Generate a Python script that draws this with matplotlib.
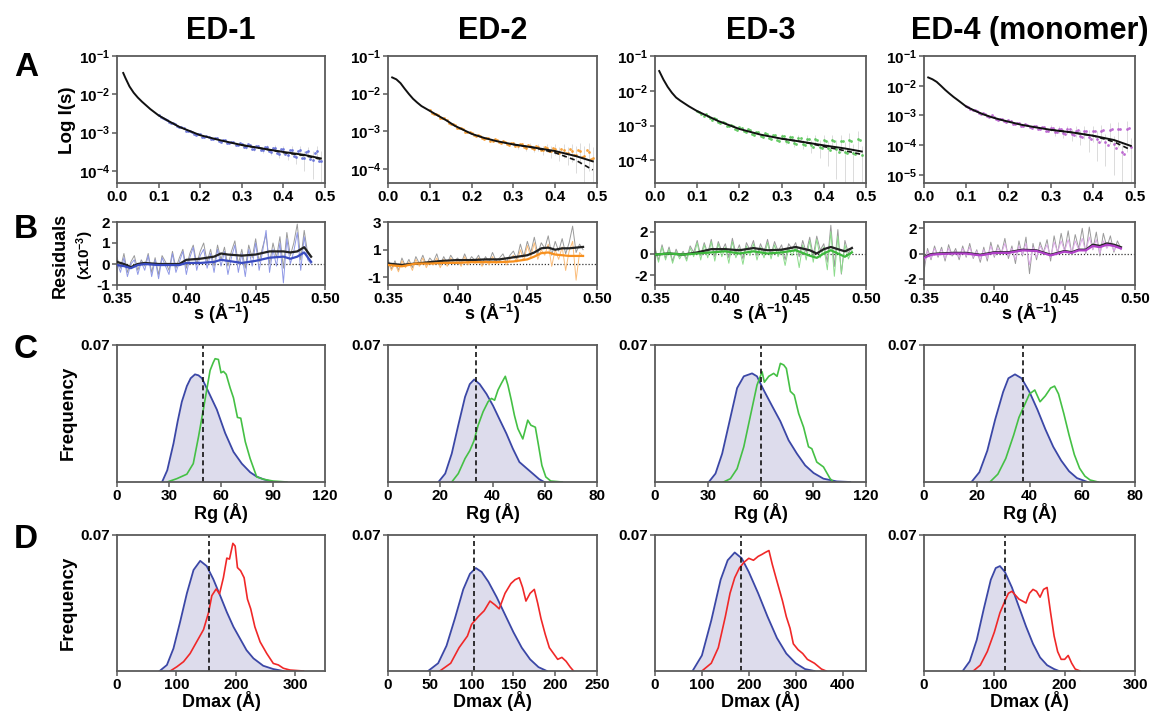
import numpy as np
import matplotlib
matplotlib.use("Agg")
import matplotlib.pyplot as plt
from matplotlib.ticker import NullLocator, FormatStrFormatter

plt.rcParams['font.family'] = ['Liberation Sans', 'DejaVu Sans']
plt.rcParams['font.weight'] = 'bold'
plt.rcParams['mathtext.fontset'] = 'custom'
plt.rcParams['mathtext.rm'] = 'Liberation Sans'
plt.rcParams['mathtext.bf'] = 'Liberation Sans:bold'
plt.rcParams['mathtext.default'] = 'bf'
plt.rcParams['axes.unicode_minus'] = False

W, H = 1151, 711

titles = ["ED-1", "ED-2", "ED-3", "ED-4 (monomer)"]

# ---- row A: scattering curves (I in absolute units) ----
fit_s = [
    [0.015, 0.02, 0.03, 0.04, 0.05, 0.06, 0.08, 0.10, 0.12, 0.15, 0.20, 0.25, 0.30, 0.35, 0.40, 0.45, 0.49],
    [0.01, 0.02, 0.03, 0.04, 0.05, 0.06, 0.07, 0.08, 0.10, 0.12, 0.14, 0.16, 0.18, 0.20, 0.23, 0.26, 0.30, 0.35, 0.40, 0.45, 0.49],
    [0.01, 0.02, 0.03, 0.04, 0.05, 0.06, 0.08, 0.10, 0.12, 0.15, 0.20, 0.25, 0.30, 0.35, 0.40, 0.45, 0.49],
    [0.01, 0.02, 0.03, 0.04, 0.05, 0.06, 0.07, 0.08, 0.10, 0.12, 0.14, 0.16, 0.18, 0.20, 0.23, 0.26, 0.30, 0.35, 0.40, 0.45, 0.49],
]
fit_I = [
    [0.036, 0.027, 0.016, 0.011, 0.0082, 0.0064, 0.0041, 0.0028, 0.0021, 0.0014, 0.00085, 0.00062, 0.00047, 0.00038, 0.00031, 0.00026, 0.00021],
    [0.027, 0.024, 0.019, 0.0135, 0.0098, 0.0073, 0.0058, 0.0047, 0.0035, 0.0026, 0.00195, 0.0014, 0.0011, 0.00086, 0.00067, 0.00055, 0.00045, 0.00037, 0.00030, 0.00022, 0.00016],
    [0.037, 0.021, 0.013, 0.0088, 0.0064, 0.0052, 0.0036, 0.0026, 0.0020, 0.00135, 0.00080, 0.00055, 0.00042, 0.00034, 0.00027, 0.00022, 0.00018],
    [0.0190, 0.0165, 0.0135, 0.0100, 0.0073, 0.0055, 0.0042, 0.0033, 0.0020, 0.00145, 0.00110, 0.00088, 0.00073, 0.00062, 0.00049, 0.00041, 0.00033, 0.00027, 0.00021, 0.00015, 0.000095],
]
# second (dashed) model, only differs at high s
fit2_s = [0.30, 0.35, 0.40, 0.45, 0.49]
fit2_I = [
    [0.00047, 0.00038, 0.00030, 0.00025, 0.00020],
    [0.00045, 0.00037, 0.00027, 0.00017, 0.000095],
    [0.00042, 0.00034, 0.00025, 0.00019, 0.000148],
    [0.00033, 0.00027, 0.00021, 0.00013, 0.00007],
]
s_exp = [0.10, 0.11, 0.12, 0.13, 0.14, 0.15, 0.16, 0.17, 0.18, 0.19,
         0.20, 0.21, 0.22, 0.23, 0.24, 0.25, 0.26, 0.27, 0.28, 0.29,
         0.30, 0.31, 0.32, 0.33, 0.34, 0.35, 0.36, 0.37, 0.38, 0.39,
         0.40, 0.41, 0.42, 0.43, 0.44, 0.45, 0.46, 0.47, 0.48, 0.49]
s_exp2 = [0.105, 0.115, 0.125, 0.135, 0.145, 0.155, 0.165, 0.175, 0.185, 0.195,
          0.205, 0.215, 0.225, 0.235, 0.245, 0.255, 0.265, 0.275, 0.285, 0.295,
          0.305, 0.315, 0.325, 0.335, 0.345, 0.355, 0.365, 0.375, 0.385, 0.395,
          0.405, 0.415, 0.425, 0.435, 0.445, 0.455, 0.465, 0.475, 0.485]
# experimental points, x1e-4
I_exp = [
    [28.5, 23.6, 21.4, 17.6, 16.3, 13.7, 12.9, 10.7, 10.4, 8.8, 8.9, 7.6, 7.8, 6.6, 7.0, 5.8, 6.3, 5.2, 5.6, 4.6,
     5.1, 4.2, 4.7, 3.8, 4.4, 3.4, 4.1, 3.1, 3.9, 2.8, 3.6, 2.6, 3.5, 2.3, 3.4, 2.1, 3.3, 1.9, 3.2, 1.8],
    [36, 29, 27, 22, 20, 16, 14.5, 12, 11.6, 9.4, 9.0, 7.6, 7.6, 6.4, 6.5, 5.5, 5.8, 5.0, 5.2, 4.4,
     4.8, 4.0, 4.5, 3.7, 4.2, 3.5, 3.9, 3.2, 3.7, 3.0, 3.4, 2.7, 3.3, 2.6, 3.0, 2.4, 3.1, 2.2, 2.9, 2.0],
    [27, 22, 21, 16, 16, 12.5, 13, 10, 10.5, 8.0, 9.0, 6.8, 7.8, 5.8, 6.6, 5.0, 6.0, 4.4, 5.3, 3.9,
     5.0, 3.6, 4.6, 3.2, 4.5, 3.0, 4.2, 2.7, 4.0, 2.5, 3.8, 2.2, 3.9, 2.1, 3.6, 1.8, 3.8, 1.6, 4.2, 1.4],
    [21, 16, 15.5, 12, 11.8, 9.3, 10.5, 7.4, 7.9, 6.3, 6.8, 5.3, 5.8, 4.5, 5.1, 4.0, 4.5, 3.5, 4.1, 3.1,
     3.8, 2.8, 3.6, 2.6, 3.4, 2.4, 3.1, 2.1, 3.0, 1.9, 2.9, 1.6, 3.1, 1.3, 3.3, 1.1, 3.5, 0.6, 3.6, 0.9],
]
I_exp2 = [
    [25.2, 23.1, 18.9, 17.6, 14.4, 13.8, 11.2, 11.1, 9.1, 9.3, 7.8, 8.1, 6.8, 7.3, 6.0, 6.4, 5.3, 5.8, 4.6, 5.3,
     4.2, 5.0, 3.8, 4.5, 3.5, 4.2, 3.2, 3.9, 2.9, 3.7, 2.7, 3.5, 2.5, 3.3, 2.2, 3.1, 2.0, 2.9, 1.8],
    [31, 29, 23, 22, 17, 16, 12.6, 12.4, 9.8, 9.6, 7.9, 8.0, 6.7, 6.8, 5.7, 6.2, 5.1, 5.5, 4.6, 5.0,
     4.2, 4.6, 3.9, 4.3, 3.6, 4.1, 3.3, 3.9, 3.1, 3.6, 2.8, 3.5, 2.6, 3.4, 2.3, 3.2, 2.1, 3.3, 1.8],
    [24, 19, 18.5, 14.5, 15, 11.8, 12.2, 9.5, 9.9, 7.6, 8.5, 6.4, 7.3, 5.4, 6.4, 4.7, 5.8, 4.1, 5.4, 3.7,
     5.0, 3.3, 4.6, 2.9, 4.3, 2.7, 4.1, 2.4, 3.8, 2.2, 3.7, 2.0, 3.6, 1.8, 3.5, 1.6, 3.6, 1.5, 3.9],
    [19.5, 15, 14.4, 11.1, 11.0, 8.7, 9.0, 7.0, 7.6, 5.9, 6.5, 5.0, 5.6, 4.3, 4.9, 3.8, 4.4, 3.4, 4.0, 3.0,
     3.7, 2.7, 3.5, 2.4, 3.4, 2.2, 3.2, 1.9, 3.1, 1.6, 3.0, 1.3, 3.2, 1.0, 3.4, 0.8, 3.5, 0.5, 3.7],
]
# error bars for s >= 0.30, x1e-4
err_exp = [
    [0.3, 0.4, 0.3, 0.5, 0.4, 0.5, 0.6, 0.5, 0.7, 0.6, 0.8, 0.7, 0.9, 0.8, 1.0, 1.1, 1.0, 1.3, 1.2, 1.5],
    [0.4, 0.5, 0.5, 0.6, 0.6, 0.7, 0.8, 0.8, 0.9, 1.0, 1.1, 1.1, 1.3, 1.3, 1.5, 1.6, 1.7, 1.9, 2.0, 1.8],
    [0.6, 0.7, 0.7, 0.8, 0.9, 0.9, 1.0, 1.1, 1.2, 1.3, 1.4, 1.5, 1.6, 1.8, 1.9, 1.6, 2.2, 1.4, 2.6, 1.2],
    [0.9, 0.8, 1.0, 0.9, 1.1, 1.0, 1.2, 1.1, 1.4, 1.3, 1.6, 1.3, 1.8, 1.1, 2.2, 1.0, 2.6, 0.55, 3.0, 0.85],
]
a_ylim = [(10**-4.32, 0.1), (10**-4.37, 0.1), (10**-4.65, 0.1), (10**-5.27, 0.1)]
a_yticks = [[1e-4, 1e-3, 1e-2, 1e-1], [1e-4, 1e-3, 1e-2, 1e-1],
            [1e-4, 1e-3, 1e-2, 1e-1], [1e-5, 1e-4, 1e-3, 1e-2, 1e-1]]

# ---- row B: residuals (x1e-3) ----
raw_black = [
    [0.3, -0.2, 0.5, -0.4, 0.1, 0.4, -0.3, 0.2, -0.1, 0.5, -0.4, 0.3, -0.5, 0.4, 0.1, -0.3, 0.6, -0.2, 0.3, 0.7,
     -0.2, 0.5, 0.9, 0.0, 0.6, 1.0, 0.1, 0.7, -0.1, 0.9, 0.2, 0.8, -0.1, 0.6, 1.1, 0.0, 0.7, -0.2, 0.9, 0.3,
     1.2, 0.1, 0.8, 1.4, 0.0, 1.0, 0.3, 1.3, -0.2, 1.5, 0.4, 1.0, 1.9, 0.2, 1.6, 0.5, 0.3],
    [0.3, -0.4, 0.2, -0.5, 0.4, -0.2, 0.3, -0.3, 0.5, 0.0, 0.6, -0.1, 0.4, 0.1, 0.7, -0.1, 0.5, 0.0, 0.6, 0.2,
     0.4, 0.0, 0.7, 0.1, 0.5, 0.2, 0.6, 0.0, 0.5, 0.1, 0.8, 0.2, 0.4, 0.7, 0.1, 0.6, 0.9, 0.3, 1.4, 0.5,
     1.6, 0.8, 1.9, 0.7, 1.5, 1.1, 2.0, 0.6, 1.6, 0.9, 1.8, 0.7, 1.5, 2.7, 0.8, 1.4, 1.0],
    [0.5, -0.6, 0.8, -0.4, 0.6, -0.7, 0.4, -0.3, 0.2, -0.5, 0.7, 0.1, 1.2, -0.2, 1.0, 0.0, 1.3, -0.3, 1.1, 0.2,
     0.9, -0.4, 1.4, 0.0, 0.8, -0.5, 1.0, 0.3, 1.2, -0.2, 0.9, 0.1, 1.3, -0.1, 1.1, 0.2, 0.8, -0.6, 0.9, 0.4,
     1.0, -0.3, 1.2, 0.1, 1.5, -0.2, 1.6, 0.3, 0.9, -0.8, 2.6, -1.2, 2.2, -1.9, 1.2, 0.0, 0.6],
    [-1.4, 0.4, -0.5, 0.6, -0.3, 0.5, -0.6, 0.7, -0.2, 0.4, -0.5, 0.6, -0.3, 0.8, -0.4, 0.3, -0.7, 0.5, -0.6, 0.9,
     -0.3, 0.7, 0.0, 1.2, -0.4, 0.6, -0.8, 1.0, -0.2, 1.3, -1.6, 0.8, -0.5, 0.9, 0.1, 1.1, -0.6, 1.4, 0.0, 1.6,
     0.2, 1.8, -0.1, 1.5, 0.4, 2.0, 0.0, 2.1, 0.3, 1.7, -0.2, 1.6, 0.5, 1.4, 0.1, 1.0, 0.4],
]
raw_color = [
    [0.1, -0.4, 0.3, -0.6, 0.0, 0.2, -0.5, 0.1, -0.3, 0.4, -0.6, 0.2, -0.7, 0.3, -0.1, -0.5, 0.5, -0.4, 0.1, 0.6,
     -0.5, 0.3, 0.8, -0.3, 0.4, 0.7, -0.2, 0.5, -0.4, 0.7, -0.1, 0.6, -0.5, 0.3, 0.9, -0.4, 0.5, -0.6, 0.7, -0.1,
     1.0, -0.3, 0.6, 1.6, -0.4, 0.7, -0.1, 1.0, -0.9, 1.2, 0.0, 0.6, 1.5, -0.3, 1.3, 0.2, 0.0],
    [0.1, -0.5, 0.0, -0.6, 0.2, -0.3, 0.1, -0.5, 0.3, -0.2, 0.4, -0.3, 0.2, -0.1, 0.4, -0.3, 0.3, -0.2, 0.4, 0.0,
     0.2, -0.2, 0.5, -0.1, 0.3, 0.0, 0.4, -0.2, 0.3, -0.1, 0.5, 0.0, 0.2, 0.4, -0.1, 0.3, 0.6, 0.1, 1.0, 0.2,
     1.3, 0.5, 1.5, 0.3, 1.0, 0.6, 1.4, -0.2, 1.0, 0.3, 1.2, -0.5, 0.9, 1.6, -1.2, 0.8, 0.5],
    [0.3, -0.8, 0.6, -0.6, 0.4, -0.9, 0.2, -0.5, 0.1, -0.7, 0.5, -0.3, 1.0, -0.6, 0.8, -0.4, 1.1, -0.7, 0.9, -0.3,
     0.6, -0.9, 1.1, -0.4, 0.5, -1.0, 0.7, -0.2, 0.9, -0.6, 0.6, -0.4, 1.0, -0.5, 0.8, -0.3, 0.4, -1.1, 0.5, -0.2,
     0.6, -1.3, 0.8, -0.6, 1.2, -0.8, 1.3, -0.4, 0.6, -1.5, 2.0, -2.1, 1.6, -1.8, 0.8, -0.5, 0.3],
    [-0.9, 0.2, -0.4, 0.4, -0.2, 0.3, -0.4, 0.4, -0.1, 0.2, -0.3, 0.4, -0.2, 0.5, -0.3, 0.2, -0.5, 0.3, -0.4, 0.6,
     -0.2, 0.4, 0.0, 0.8, -0.2, 0.4, -0.5, 0.6, -0.1, 0.8, -0.9, 0.5, -0.3, 0.6, 0.1, 0.7, -0.3, 0.9, 0.1, 1.0,
     0.2, 1.1, 0.0, 1.0, 0.3, 1.2, 0.1, 1.3, 0.3, 1.1, 0.0, 1.0, 0.4, 0.9, 0.2, 0.7, 0.3],
]
smooth_s = [
    [0.35, 0.355, 0.36, 0.365, 0.37, 0.38, 0.39, 0.395, 0.40, 0.41, 0.42, 0.425, 0.43, 0.44, 0.45, 0.46, 0.47, 0.475, 0.48, 0.485, 0.49],
    [0.35, 0.36, 0.37, 0.38, 0.39, 0.40, 0.41, 0.42, 0.43, 0.44, 0.45, 0.455, 0.46, 0.465, 0.47, 0.475, 0.48, 0.49],
    [0.35, 0.36, 0.37, 0.38, 0.39, 0.40, 0.41, 0.42, 0.43, 0.44, 0.45, 0.46, 0.465, 0.47, 0.475, 0.48, 0.485, 0.49],
    [0.35, 0.355, 0.36, 0.37, 0.38, 0.39, 0.40, 0.41, 0.42, 0.43, 0.44, 0.45, 0.455, 0.46, 0.465, 0.47, 0.475, 0.48, 0.485, 0.49],
]
smooth_black = [
    [0.1, 0.0, -0.15, 0.0, 0.05, 0.0, 0.0, 0.0, 0.2, 0.25, 0.35, 0.5, 0.45, 0.4, 0.45, 0.6, 0.6, 0.55, 0.6, 0.8, 0.35],
    [0.0, -0.1, 0.0, 0.1, 0.2, 0.25, 0.25, 0.3, 0.3, 0.45, 0.6, 0.8, 1.1, 1.15, 1.0, 1.1, 1.1, 1.2],
    [-0.1, 0.0, -0.1, 0.1, 0.4, 0.4, 0.3, 0.5, 0.3, 0.35, 0.6, 0.3, 0.0, 0.4, 0.6, 0.4, 0.2, 0.5],
    [-0.3, -0.05, 0.0, 0.05, 0.05, -0.1, 0.1, 0.1, 0.3, 0.25, -0.1, 0.2, 0.1, 0.3, 0.3, 0.7, 0.6, 0.8, 0.7, 0.5],
]
smooth_color = [
    [-0.05, -0.1, -0.2, -0.05, 0.0, -0.05, -0.05, -0.05, 0.05, 0.05, 0.1, 0.2, 0.15, 0.05, 0.15, 0.3, 0.35, 0.25, 0.35, 0.55, 0.1],
    [-0.1, -0.2, 0.0, 0.0, 0.05, 0.05, 0.1, 0.1, 0.1, 0.15, 0.3, 0.5, 0.75, 0.8, 0.65, 0.6, 0.55, 0.55],
    [-0.1, 0.0, -0.1, 0.0, 0.1, 0.2, 0.0, 0.2, 0.0, 0.1, 0.3, -0.2, -0.4, 0.0, 0.3, 0.0, -0.3, 0.1],
    [-0.35, -0.1, -0.05, 0.0, 0.0, -0.15, 0.05, 0.05, 0.25, 0.2, -0.15, 0.15, 0.05, 0.25, 0.25, 0.6, 0.5, 0.7, 0.6, 0.4],
]
b_ylim = [(-1, 2), (-1.55, 3), (-2.9, 2.9), (-2.5, 2.5)]
b_yticks = [[-1, 0, 1, 2], [-1, 1, 3], [-2, 0, 2], [-2, 0, 2]]

# ---- row C: Rg distributions ----
rg_pool_x = [
    [26, 29, 32.6, 35, 37.4, 40.3, 42.5, 45, 47, 49, 52.8, 57.6, 62.4, 67.2, 72, 76.8, 80.5, 84.5, 90],
    [19.3, 21.9, 24.4, 26.9, 29.5, 31.3, 33, 35.1, 37.7, 40.2, 42.7, 45.3, 47.8, 50.3, 52.8, 55.4, 57.9, 59.8],
    [30.6, 34.4, 38.2, 42.9, 46.7, 50.5, 55.2, 58, 61.8, 66.5, 71.3, 76, 80.7, 85.4, 90.2, 95.8, 103.4, 111],
    [18, 21, 24, 27, 30, 32, 34.5, 37, 40, 43, 46, 49, 52, 55, 58, 62],
]
rg_pool_y = [
    [0, 0.006, 0.0197, 0.031, 0.041, 0.049, 0.053, 0.055, 0.0545, 0.053, 0.046, 0.037, 0.025, 0.0154, 0.0094, 0.005, 0.0028, 0.0014, 0],
    [0, 0.0043, 0.0145, 0.029, 0.0435, 0.050, 0.0524, 0.050, 0.045, 0.039, 0.032, 0.0248, 0.017, 0.0102, 0.0073, 0.0043, 0.0014, 0],
    [0, 0.0043, 0.0145, 0.033, 0.048, 0.054, 0.0555, 0.054, 0.047, 0.039, 0.031, 0.0213, 0.0145, 0.0085, 0.0046, 0.0017, 0.0003, 0],
    [0, 0.005, 0.016, 0.032, 0.046, 0.053, 0.055, 0.053, 0.046, 0.037, 0.027, 0.018, 0.011, 0.0055, 0.002, 0],
]
rg_sel_x = [
    [29, 34.5, 40.3, 44, 47, 50, 53.7, 55.5, 56.6, 58.5, 60, 61.4, 63, 65.3, 67.2, 69.5, 71.4, 74, 76.8, 80.6, 84.5, 90, 98],
    [24.4, 26.9, 29.5, 31.3, 32.9, 34.5, 36.4, 38.3, 39.6, 40.8, 42.1, 43.4, 44.9, 45.9, 47.2, 48.4, 49.7, 51.6, 53.5, 54.7, 56.4, 57.6, 58.9, 60.4, 62.3, 66.7],
    [39, 42.9, 46.7, 50.5, 54.3, 58, 60.9, 62.2, 64.7, 67.5, 69.4, 71.3, 73.2, 74.7, 77, 79.2, 81.7, 84.5, 87.3, 89.2, 92, 95.8, 99.6, 101.5],
    [25, 28, 31, 34, 36, 38, 40, 42, 44, 46, 48, 49.5, 51, 53, 55, 57, 59, 61, 63, 66],
]
rg_sel_y = [
    [0, 0.0017, 0.004, 0.0094, 0.023, 0.038, 0.057, 0.061, 0.063, 0.0626, 0.0558, 0.0565, 0.055, 0.048, 0.043, 0.033, 0.0326, 0.0206, 0.012, 0.0026, 0.0014, 0.0005, 0],
    [0, 0.0043, 0.012, 0.016, 0.021, 0.029, 0.0359, 0.041, 0.0427, 0.0418, 0.047, 0.0504, 0.054, 0.0495, 0.0418, 0.034, 0.0273, 0.022, 0.0316, 0.029, 0.028, 0.0188, 0.0085, 0.0026, 0.0005, 0],
    [0, 0.0017, 0.0068, 0.018, 0.034, 0.0495, 0.0563, 0.051, 0.054, 0.0555, 0.054, 0.0606, 0.0598, 0.058, 0.0463, 0.0444, 0.035, 0.028, 0.018, 0.017, 0.0102, 0.0077, 0.0017, 0],
    [0, 0.004, 0.012, 0.024, 0.033, 0.039, 0.045, 0.047, 0.041, 0.044, 0.048, 0.049, 0.045, 0.035, 0.024, 0.014, 0.007, 0.003, 0.001, 0],
]
rg_exp = [49.5, 33.5, 60, 37.7]
rg_xlim = [120, 80, 120, 80]
rg_xticks = [[0, 30, 60, 90, 120], [0, 20, 40, 60, 80], [0, 30, 60, 90, 120], [0, 20, 40, 60, 80]]

# ---- row D: Dmax distributions ----
dm_pool_x = [
    [71.7, 84, 95, 106, 117.6, 128.8, 140, 151, 162, 173.6, 184.8, 196, 207, 218, 229.6, 246, 263, 280],
    [48, 60, 70, 80, 90, 98, 105, 112, 120, 130, 140, 150, 160, 170, 180, 190],
    [80, 100, 120, 140, 155, 170, 185, 200, 220, 240, 260, 280, 300, 320, 340],
    [55, 65, 75, 85, 95, 102, 108, 115, 125, 135, 145, 155, 165, 175, 185, 192],
]
dm_pool_y = [
    [0, 0.0031, 0.0116, 0.025, 0.040, 0.052, 0.0567, 0.054, 0.0473, 0.0388, 0.0303, 0.0227, 0.0167, 0.0107, 0.0065, 0.0027, 0.001, 0],
    [0, 0.004, 0.013, 0.027, 0.042, 0.050, 0.053, 0.051, 0.046, 0.038, 0.029, 0.020, 0.012, 0.006, 0.002, 0],
    [0, 0.008, 0.026, 0.047, 0.057, 0.061, 0.058, 0.051, 0.040, 0.028, 0.017, 0.009, 0.004, 0.001, 0],
    [0, 0.005, 0.016, 0.032, 0.047, 0.053, 0.054, 0.051, 0.043, 0.033, 0.023, 0.014, 0.007, 0.003, 0.001, 0],
]
dm_sel_x = [
    [89.6, 100.8, 112, 123, 134, 145.6, 154, 159.6, 166.8, 172.5, 179, 184.8, 189.3, 195, 198.8, 202.7, 208, 213.9, 219.5, 225, 232, 240.8, 252, 263, 271.6, 280, 291, 313.6],
    [62, 75, 85, 95, 100, 108, 115, 122, 128, 133, 140, 147, 152, 157, 161, 165, 170, 175, 179, 183, 188, 193, 198, 203, 208, 213, 218, 222],
    [100, 120, 135, 150, 160, 170, 180, 190, 200, 210, 220, 228, 235, 243, 250, 258, 265, 272, 280, 288, 295, 305, 315, 325, 340, 355, 365],
    [70, 80, 90, 100, 108, 115, 120, 125, 130, 135, 140, 145, 150, 155, 160, 165, 170, 175, 180, 185, 190, 195, 200, 205, 210, 215, 222],
]
dm_sel_y = [
    [0, 0.0022, 0.0048, 0.009, 0.015, 0.0213, 0.030, 0.0388, 0.0422, 0.0397, 0.048, 0.0581, 0.0576, 0.0657, 0.0643, 0.0532, 0.0516, 0.048, 0.037, 0.032, 0.0227, 0.015, 0.009, 0.0039, 0.0031, 0.0014, 0.0005, 0],
    [0, 0.004, 0.012, 0.018, 0.024, 0.028, 0.031, 0.036, 0.034, 0.032, 0.040, 0.045, 0.047, 0.048, 0.043, 0.036, 0.040, 0.042, 0.035, 0.027, 0.019, 0.012, 0.009, 0.006, 0.007, 0.005, 0.002, 0],
    [0, 0.004, 0.012, 0.028, 0.040, 0.048, 0.053, 0.056, 0.058, 0.057, 0.059, 0.060, 0.061, 0.062, 0.055, 0.048, 0.042, 0.036, 0.028, 0.022, 0.014, 0.011, 0.009, 0.006, 0.004, 0.001, 0],
    [0, 0.003, 0.010, 0.020, 0.030, 0.036, 0.040, 0.041, 0.039, 0.037, 0.036, 0.035, 0.040, 0.042, 0.041, 0.038, 0.042, 0.043, 0.030, 0.018, 0.010, 0.006, 0.006, 0.008, 0.004, 0.001, 0],
]
dm_exp = [154, 103, 183, 115]
dm_xlim = [350, 250, 450, 300]
dm_xticks = [[0, 100, 200, 300], [0, 50, 100, 150, 200, 250], [0, 100, 200, 300, 400], [0, 100, 200, 300]]

dot_colors = ['#5a66d6', '#f7941d', '#4cc24c', '#b455cc']
line_colors = ['#3a4cc0', '#f7901e', '#3cb83c', '#b040c8']
light_colors = ['#8f98e6', '#fbbd7a', '#8ddc8d', '#dcaae8']
POOL = '#3b47a6'
POOL_FILL = '#dddcec'
SEL_C = '#45c045'
SEL_D = '#f02828'
FRAME = '#5a5a5a'

cols = [(117, 325), (388, 597), (655, 866), (924, 1135)]
rows = {'A': (56, 183), 'B': (222, 285), 'C': (345, 482), 'D': (535, 671)}


def rect(l, t, r, b):
    return [l / W, 1 - b / H, (r - l) / W, (b - t) / H]


def style(ax):
    for sp in ax.spines.values():
        sp.set_color(FRAME)
        sp.set_linewidth(1.3)
    ax.tick_params(direction='out', length=3.5, width=1.1, color=FRAME, labelsize=11, pad=1.5)
    for lab in ax.get_xticklabels() + ax.get_yticklabels():
        lab.set_fontweight('bold')


def ftext(x, y, s, **kw):
    fig.text(x / W, 1 - y / H, s, ha='center', va='center', fontweight='bold', **kw)


fig = plt.figure(figsize=(W / 100, H / 100), dpi=100)

for i, (l, r) in enumerate(cols):
    # A: log I(s)
    t, b = rows['A']
    ax = fig.add_axes(rect(l, t, r, b))
    e = np.array(err_exp[i]) * 1e-4
    Ie = np.array(I_exp[i]) * 1e-4
    ax.vlines(s_exp[20:], np.maximum(Ie[20:] - e, 1e-6), Ie[20:] + e, color='#d6d6d6', lw=0.6, zorder=1)
    ax.plot(s_exp, Ie, 'o', ms=2.0, color=dot_colors[i], alpha=0.85, mec='none', zorder=2)
    ax.plot(s_exp2, np.array(I_exp2[i]) * 1e-4, 'o', ms=2.0, color=dot_colors[i], alpha=0.85, mec='none', zorder=2)
    ax.plot(fit_s[i], fit_I[i], '-', color='#111111', lw=1.4, zorder=3)
    ax.plot(fit2_s, fit2_I[i], '--', color='#111111', lw=1.2, dashes=(3, 2), zorder=3)
    ax.set_yscale('log')
    ax.set_ylim(*a_ylim[i])
    ax.set_yticks(a_yticks[i])
    ax.yaxis.set_minor_locator(NullLocator())
    ax.set_xlim(0, 0.5)
    ax.set_xticks([0, 0.1, 0.2, 0.3, 0.4, 0.5])
    ax.xaxis.set_major_formatter(FormatStrFormatter('%.1f'))
    style(ax)

    # B: residuals
    t, b = rows['B']
    ax = fig.add_axes(rect(l, t, r, b))
    ax.axhline(0, color='#333333', lw=0.9, ls=(0, (1, 1.5)), zorder=1)
    ax.plot(np.linspace(0.35, 0.49, len(raw_black[i])), raw_black[i], color='#9a9a9a', lw=0.7, zorder=2)
    ax.plot(np.linspace(0.35, 0.49, len(raw_color[i])), raw_color[i], color=light_colors[i], lw=0.7, zorder=2)
    ax.plot(smooth_s[i], smooth_black[i], color='#222222', lw=1.6, zorder=3)
    ax.plot(smooth_s[i], smooth_color[i], color=line_colors[i], lw=1.6, zorder=4)
    ax.set_xlim(0.35, 0.5)
    ax.set_xticks([0.35, 0.40, 0.45, 0.50])
    ax.xaxis.set_major_formatter(FormatStrFormatter('%.2f'))
    ax.set_ylim(*b_ylim[i])
    ax.set_yticks(b_yticks[i])
    style(ax)
    ftext((l + r) / 2, 314, 's (Å$^{-1}$)', fontsize=13)

    # C: Rg distributions
    t, b = rows['C']
    ax = fig.add_axes(rect(l, t, r, b))
    ax.fill_between(rg_pool_x[i], rg_pool_y[i], color=POOL_FILL, lw=0)
    ax.plot(rg_pool_x[i], rg_pool_y[i], color=POOL, lw=1.3)
    ax.plot(rg_sel_x[i], rg_sel_y[i], color=SEL_C, lw=1.2)
    ax.axvline(rg_exp[i], color='#111111', lw=1.2, ls=(0, (3, 2)))
    ax.set_xlim(0, rg_xlim[i])
    ax.set_xticks(rg_xticks[i])
    ax.set_ylim(0, 0.07)
    ax.set_yticks([0.07])
    ax.yaxis.set_major_formatter(FormatStrFormatter('%.2f'))
    style(ax)
    ftext((l + r) / 2, 513, 'Rg (Å)', fontsize=13)

    # D: Dmax distributions
    t, b = rows['D']
    ax = fig.add_axes(rect(l, t, r, b))
    ax.fill_between(dm_pool_x[i], dm_pool_y[i], color=POOL_FILL, lw=0)
    ax.plot(dm_pool_x[i], dm_pool_y[i], color=POOL, lw=1.3)
    ax.plot(dm_sel_x[i], dm_sel_y[i], color=SEL_D, lw=1.2)
    ax.axvline(dm_exp[i], color='#111111', lw=1.2, ls=(0, (3, 2)))
    ax.set_xlim(0, dm_xlim[i])
    ax.set_xticks(dm_xticks[i])
    ax.set_ylim(0, 0.07)
    ax.set_yticks([0.07])
    ax.yaxis.set_major_formatter(FormatStrFormatter('%.2f'))
    style(ax)
    ftext((l + r) / 2, 701, 'Dmax (Å)', fontsize=13)

    ftext((l + r) / 2, 31, titles[i], fontsize=22)

# row letters and y labels
for letter, y in [('A', 68), ('B', 230), ('C', 350), ('D', 540)]:
    ftext(26, y, letter, fontsize=24)
ftext(68, 120, 'Log I(s)', fontsize=13.5, rotation=90)
ftext(60, 255, 'Residuals', fontsize=13, rotation=90)
ftext(85, 255, '(x10$^{-3}$)', fontsize=11, rotation=90)
ftext(68, 413, 'Frequency', fontsize=13.5, rotation=90)
ftext(68, 603, 'Frequency', fontsize=13.5, rotation=90)

fig.savefig('out.png', dpi=100)
